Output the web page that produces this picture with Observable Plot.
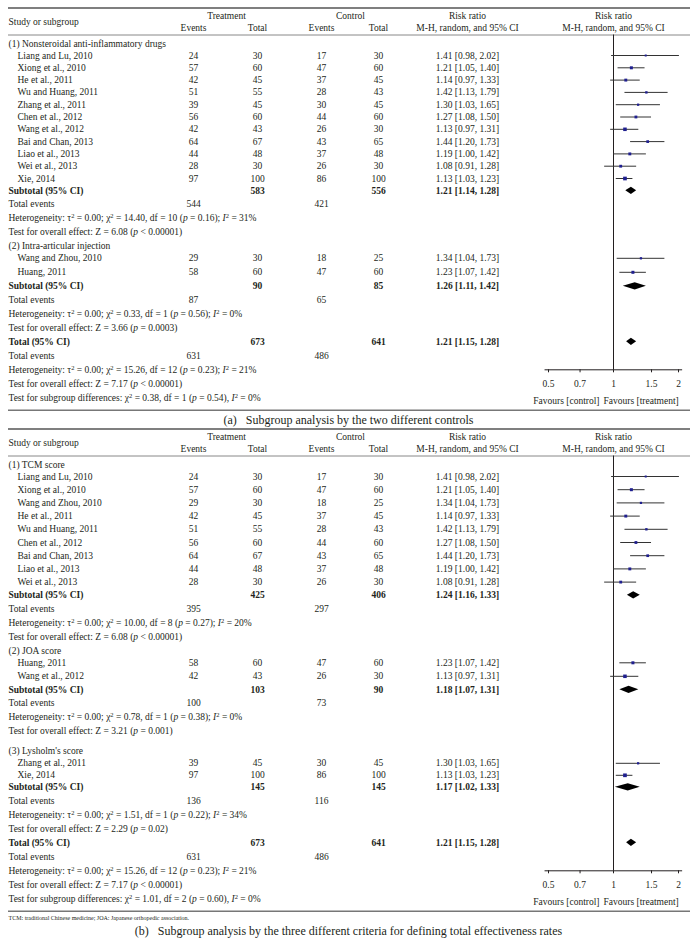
<!DOCTYPE html>
<html><head><meta charset="utf-8">
<script src="https://cdn.jsdelivr.net/npm/d3@7"></script>
<script src="https://cdn.jsdelivr.net/npm/@observablehq/plot@0.6"></script>
<style>
body{margin:0;background:#fff;}
#wrap{width:697px;font-family:"Liberation Serif",serif;color:#231f20;}
.cap{text-align:center;font-size:12px;}
svg{display:block;}
</style></head><body><div id="wrap"></div>
<script>
// ---------- study-level data ----------
const studyNames = ["Liang and Lu, 2010","Xiong et al., 2010","Wang and Zhou, 2010","He et al., 2011","Wu and Huang, 2011","Zhang et al., 2011","Huang, 2011","Chen et al., 2012","Wang et al., 2012","Bai and Chan, 2013","Liao et al., 2013","Wei et al., 2013","Xie, 2014"];
const treatEvents = [24,57,29,42,51,39,58,56,42,64,44,28,97];
const treatTotal  = [30,60,30,45,55,45,60,60,43,67,48,30,100];
const ctrlEvents  = [17,47,18,37,28,30,47,44,26,43,37,26,86];
const ctrlTotal   = [30,60,25,45,43,45,60,60,30,65,48,30,100];
const riskRatio   = [1.41,1.21,1.34,1.14,1.42,1.30,1.23,1.27,1.13,1.44,1.19,1.08,1.13];
const ciLower     = [0.98,1.05,1.04,0.97,1.13,1.03,1.07,1.08,0.97,1.20,1.00,0.91,1.03];
const ciUpper     = [2.02,1.40,1.73,1.33,1.79,1.65,1.42,1.50,1.31,1.73,1.42,1.28,1.23];
const weightPct   = [3.5,8.0,4.5,7.5,5.0,4.5,8.0,7.0,11.0,6.5,7.5,7.0,12.0];

// ---------- panel (a) ----------
const groupLabelsA = ["(1) Nonsteroidal anti-inflammatory drugs","(2) Intra-articular injection"];
const membersA = [
  ["Liang and Lu, 2010","Xiong et al., 2010","He et al., 2011","Wu and Huang, 2011","Zhang et al., 2011","Chen et al., 2012","Wang et al., 2012","Bai and Chan, 2013","Liao et al., 2013","Wei et al., 2013","Xie, 2014"],
  ["Wang and Zhou, 2010","Huang, 2011"]
];
const subTreatTotalA = [583,90];
const subCtrlTotalA  = [556,85];
const subTreatEventsA = [544,87];
const subCtrlEventsA  = [421,65];
const subRRA = [1.21,1.26];
const subLoA = [1.14,1.11];
const subHiA = [1.28,1.42];
const subHetA = ["τ² = 0.00; χ² = 14.40, df = 10 (p = 0.16); I² = 31%","τ² = 0.00; χ² = 0.33, df = 1 (p = 0.56); I² = 0%"];
const subZA = ["Z = 6.08 (p < 0.00001)","Z = 3.66 (p = 0.0003)"];
const diffA = "χ² = 0.38, df = 1 (p = 0.54), I² = 0%";
const captionA = "(a)\u2002 Subgroup analysis by the two different controls";

// ---------- panel (b) ----------
const groupLabelsB = ["(1) TCM score","(2) JOA score","(3) Lysholm's score"];
const membersB = [
  ["Liang and Lu, 2010","Xiong et al., 2010","Wang and Zhou, 2010","He et al., 2011","Wu and Huang, 2011","Chen et al., 2012","Bai and Chan, 2013","Liao et al., 2013","Wei et al., 2013"],
  ["Huang, 2011","Wang et al., 2012"],
  ["Zhang et al., 2011","Xie, 2014"]
];
const subTreatTotalB = [425,103,145];
const subCtrlTotalB  = [406,90,145];
const subTreatEventsB = [395,100,136];
const subCtrlEventsB  = [297,73,116];
const subRRB = [1.24,1.18,1.17];
const subLoB = [1.16,1.07,1.02];
const subHiB = [1.33,1.31,1.33];
const subHetB = ["τ² = 0.00; χ² = 10.00, df = 8 (p = 0.27); I² = 20%","τ² = 0.00; χ² = 0.78, df = 1 (p = 0.38); I² = 0%","τ² = 0.00; χ² = 1.51, df = 1 (p = 0.22); I² = 34%"];
const subZB = ["Z = 6.08 (p < 0.00001)","Z = 3.21 (p = 0.001)","Z = 2.29 (p = 0.02)"];
const diffB = "χ² = 1.01, df = 2 (p = 0.60), I² = 0%";
const captionB = "(b)\u2002 Subgroup analysis by the three different criteria for defining total effectiveness rates";
const footnoteB = "TCM: traditional Chinese medicine; JOA: Japanese orthopedic association.";

// ---------- overall ----------
const totTreatTotal = 673, totCtrlTotal = 641, totTreatEvents = 631, totCtrlEvents = 486;
const totRR = 1.21, totLo = 1.15, totHi = 1.28;
const totHet = "τ² = 0.00; χ² = 15.26, df = 12 (p = 0.23); I² = 21%";
const totZ = "Z = 7.17 (p < 0.00001)";

const axisTicks = [0.5,0.7,1,1.5,2];
const axisTickLabels = ["0.5","0.7","1","1.5","2"];
const favLeft = "Favours [control]", favRight = "Favours [treatment]";

// ---------- helpers ----------
const fmt = v => v.toFixed(2);
const rrText = (e,l,h) => `${fmt(e)} [${fmt(l)}, ${fmt(h)}]`;
const FONT = "Liberation Serif";
const FS = 9.5;
const INK = "#231f20";

function panel(cfg) {
  const {groupLabels, members, sT, sC, sTE, sCE, sRR, sLo, sHi, sHet, sZ, diff, first, studyGap, extraBefore, height, footnote} = cfg;
  const G = 14, GS = 12, SUBTE = 13.5;
  const rows = [];
  let y = first, prev = null;
  const add = (r, gap) => { if (prev) y += gap; r.y = y; rows.push(r); prev = r; return r; };
  groupLabels.forEach((gl, gi) => {
    add({kind:"g", gi}, G + (extraBefore[gi] || 0));
    members[gi].forEach((name, k) => add({kind:"s", gi, i: studyNames.indexOf(name)}, k === 0 ? GS : studyGap[gi]));
    add({kind:"sub", gi}, studyGap[gi]);
    add({kind:"te", gi}, SUBTE);
    add({kind:"het", gi}, G);
    add({kind:"test", gi}, G);
  });
  add({kind:"tot"}, G);
  add({kind:"tte"}, G);
  const rThet = add({kind:"thet"}, G);
  const rTtest = add({kind:"ttest"}, G);
  const rDiff = add({kind:"diff"}, G);

  const headerRule = first - 8.5, topRule = first - 35.5;
  const axisY = rThet.y, labY = rTtest.y + 0.5, favY = rDiff.y + 3;
  const bottomRule = rDiff.y + 12.5;

  // text items
  const items = [];
  const T = (y, col, text, bold=false) => items.push({y, col, text, bold});
  for (const r of rows) {
    if (r.kind === "g") T(r.y, "lab", groupLabels[r.gi]);
    else if (r.kind === "s") {
      T(r.y, "name", studyNames[r.i]);
      T(r.y, "te", String(treatEvents[r.i])); T(r.y, "tt", String(treatTotal[r.i]));
      T(r.y, "ce", String(ctrlEvents[r.i])); T(r.y, "ct", String(ctrlTotal[r.i]));
      T(r.y, "rr", rrText(riskRatio[r.i], ciLower[r.i], ciUpper[r.i]));
    } else if (r.kind === "sub") {
      T(r.y, "lab", "Subtotal (95% CI)", true);
      T(r.y, "tt", String(sT[r.gi]), true); T(r.y, "ct", String(sC[r.gi]), true);
      T(r.y, "rr", rrText(sRR[r.gi], sLo[r.gi], sHi[r.gi]), true);
    } else if (r.kind === "te") {
      T(r.y, "lab", "Total events"); T(r.y, "te", String(sTE[r.gi])); T(r.y, "ce", String(sCE[r.gi]));
    } else if (r.kind === "het") T(r.y, "lab", "Heterogeneity: " + sHet[r.gi]);
    else if (r.kind === "test") T(r.y, "lab", "Test for overall effect: " + sZ[r.gi]);
    else if (r.kind === "tot") {
      T(r.y, "lab", "Total (95% CI)", true);
      T(r.y, "tt", String(totTreatTotal), true); T(r.y, "ct", String(totCtrlTotal), true);
      T(r.y, "rr", rrText(totRR, totLo, totHi), true);
    } else if (r.kind === "tte") {
      T(r.y, "lab", "Total events"); T(r.y, "te", String(totTreatEvents)); T(r.y, "ce", String(totCtrlEvents));
    } else if (r.kind === "thet") T(r.y, "lab", "Heterogeneity: " + totHet);
    else if (r.kind === "ttest") T(r.y, "lab", "Test for overall effect: " + totZ);
    else if (r.kind === "diff") T(r.y, "lab", "Test for subgroup differences: " + diff);
  }
  const header = [
    {y: first - 22, col: "lab", text: "Study or subgroup"},
    {y: first - 27.5, col: "trtH", text: "Treatment"},
    {y: first - 27.5, col: "ctlH", text: "Control"},
    {y: first - 27.5, col: "rr", text: "Risk ratio"},
    {y: first - 27.5, col: "fp", text: "Risk ratio"},
    {y: first - 16, col: "te", text: "Events"},
    {y: first - 16, col: "tt", text: "Total"},
    {y: first - 16, col: "ce", text: "Events"},
    {y: first - 16, col: "ct", text: "Total"},
    {y: first - 16, col: "rr", text: "M-H, random, and 95% CI"},
    {y: first - 16, col: "fp", text: "M-H, random, and 95% CI"}
  ];
  const cols = {
    lab: {dx: 0, a: "start"}, name: {dx: 9, a: "start"},
    te: {dx: 185, a: "middle"}, tt: {dx: 249, a: "middle"},
    ce: {dx: 313, a: "middle"}, ct: {dx: 370, a: "middle"},
    rr: {dx: 459, a: "middle"}, trtH: {dx: 218, a: "middle"}, ctlH: {dx: 342, a: "middle"},
    fp: {dx: 605, a: "middle"}
  };
  const textMarks = [];
  for (const [key, c] of Object.entries(cols)) {
    for (const bold of [false, true]) {
      const data = items.filter(d => d.col === key && d.bold === bold).concat(bold ? [] : header.filter(d => d.col === key));
      if (!data.length) continue;
      textMarks.push(Plot.text(data, {y: "y", text: "text", frameAnchor: "left", dx: c.dx, textAnchor: c.a,
        fontSize: FS, fontWeight: bold ? "bold" : "normal", fill: INK}));
    }
  }

  const sRows = rows.filter(r => r.kind === "s");
  const dRows = rows.filter(r => r.kind === "sub" || r.kind === "tot");
  const dia = [];
  dRows.forEach((r, k) => {
    const e = r.kind === "tot" ? totRR : sRR[r.gi];
    const l = r.kind === "tot" ? totLo : sLo[r.gi];
    const h = r.kind === "tot" ? totHi : sHi[r.gi];
    const hh = 3.6;
    dia.push({id: k, x: l, y1: r.y, y2: r.y}, {id: k, x: e, y1: r.y - hh, y2: r.y + hh}, {id: k, x: h, y1: r.y, y2: r.y});
  });

  const marks = [
    Plot.ruleY([topRule], {y: d => d, stroke: "#555", strokeWidth: 1.3}),
    Plot.ruleY([headerRule], {y: d => d, stroke: "#888", strokeWidth: 1}),
    Plot.ruleY([bottomRule], {y: d => d, stroke: "#777", strokeWidth: 1.5}),
    ...textMarks,
    Plot.ruleX([1], {x: d => d, y1: headerRule, y2: axisY, stroke: INK, strokeWidth: 1}),
    Plot.ruleY(sRows, {y: "y", x1: r => ciLower[r.i], x2: r => ciUpper[r.i], stroke: "#333", strokeWidth: 1}),
    Plot.dot(sRows, {x: r => riskRatio[r.i], y: "y", r: r => Math.sqrt(weightPct[r.i]) * 0.6, symbol: "square", fill: "#1f1f8f", stroke: "none"}),
    Plot.areaY(dia, {x: "x", y1: "y1", y2: "y2", z: "id", fill: "#000", curve: "linear"}),
    Plot.ruleY([axisY], {y: d => d, x1: 0.482, x2: 2.09, stroke: INK, strokeWidth: 1}),
    Plot.ruleX(axisTicks, {x: d => d, y1: axisY, y2: axisY + 3, stroke: INK, strokeWidth: 1}),
    Plot.text(axisTicks, {x: d => d, y: () => labY, text: (d, i) => axisTickLabels[i], fontSize: FS, fill: INK}),
    Plot.text([{y: favY, t: favLeft}], {y: "y", text: "t", frameAnchor: "left", dx: 591, textAnchor: "end", fontSize: FS, fill: INK}),
    Plot.text([{y: favY, t: favRight}], {y: "y", text: "t", frameAnchor: "left", dx: 595, textAnchor: "start", fontSize: FS, fill: INK})
  ];
  if (footnote) marks.push(Plot.text([{y: bottomRule + 7, t: footnote}], {y: "y", text: "t", frameAnchor: "left", dx: 0, textAnchor: "start", fontSize: 6, fill: INK}));

  const svg = Plot.plot({
    width: 697, height, marginLeft: 8, marginRight: 7, marginTop: 0, marginBottom: 0,
    style: {fontFamily: FONT, fontSize: FS + "px", background: "#fff", color: INK},
    x: {type: "log", domain: [0.5, 2], range: [548, 678], axis: null},
    y: {domain: [0, height], range: [0, height], axis: null},
    r: {type: "identity"},
    marks
  });
  enrich(svg);
  return svg;
}

function enrich(svg) {
  const NS = "http://www.w3.org/2000/svg";
  svg.querySelectorAll("text").forEach(t => {
    const s = t.textContent;
    if (!/²|\(p /.test(s)) return;
    t.textContent = "";
    const add = (txt, attrs = {}) => {
      const ts = document.createElementNS(NS, "tspan");
      for (const [k, v] of Object.entries(attrs)) ts.setAttribute(k, v);
      ts.textContent = txt; t.appendChild(ts);
    };
    const sup = {"baseline-shift": "super", "font-size": "6.5"};
    const it = {"font-style": "italic"};
    for (const p of s.split(/(I²|²|\(p )/)) {
      if (!p) continue;
      if (p === "I²") { add("I", it); add("2", sup); }
      else if (p === "²") add("2", sup);
      else if (p === "(p ") { add("("); add("p", it); add(" "); }
      else add(p);
    }
  });
}

const wrap = document.getElementById("wrap");
wrap.appendChild(panel({
  groupLabels: groupLabelsA, members: membersA, sT: subTreatTotalA, sC: subCtrlTotalA, sTE: subTreatEventsA, sCE: subCtrlEventsA,
  sRR: subRRA, sLo: subLoA, sHi: subHiA, sHet: subHetA, sZ: subZA, diff: diffA,
  first: 43, studyGap: [12.3, 14], extraBefore: [0, 0], height: 413
}));
const ca = document.createElement("div"); ca.className = "cap"; ca.style.height = "15px"; ca.style.lineHeight = "15px"; ca.textContent = captionA; wrap.appendChild(ca);
wrap.appendChild(panel({
  groupLabels: groupLabelsB, members: membersB, sT: subTreatTotalB, sC: subCtrlTotalB, sTE: subTreatEventsB, sCE: subCtrlEventsB,
  sRR: subRRB, sLo: subLoB, sHi: subHiB, sHet: subHetB, sZ: subZB, diff: diffB,
  first: 36, studyGap: [13.2, 13.5, 12], extraBefore: [0, 0, 6], height: 494, footnote: footnoteB
}));
const cb = document.createElement("div"); cb.className = "cap"; cb.style.height = "18px"; cb.style.lineHeight = "18px"; cb.textContent = captionB; wrap.appendChild(cb);
</script></body></html>
